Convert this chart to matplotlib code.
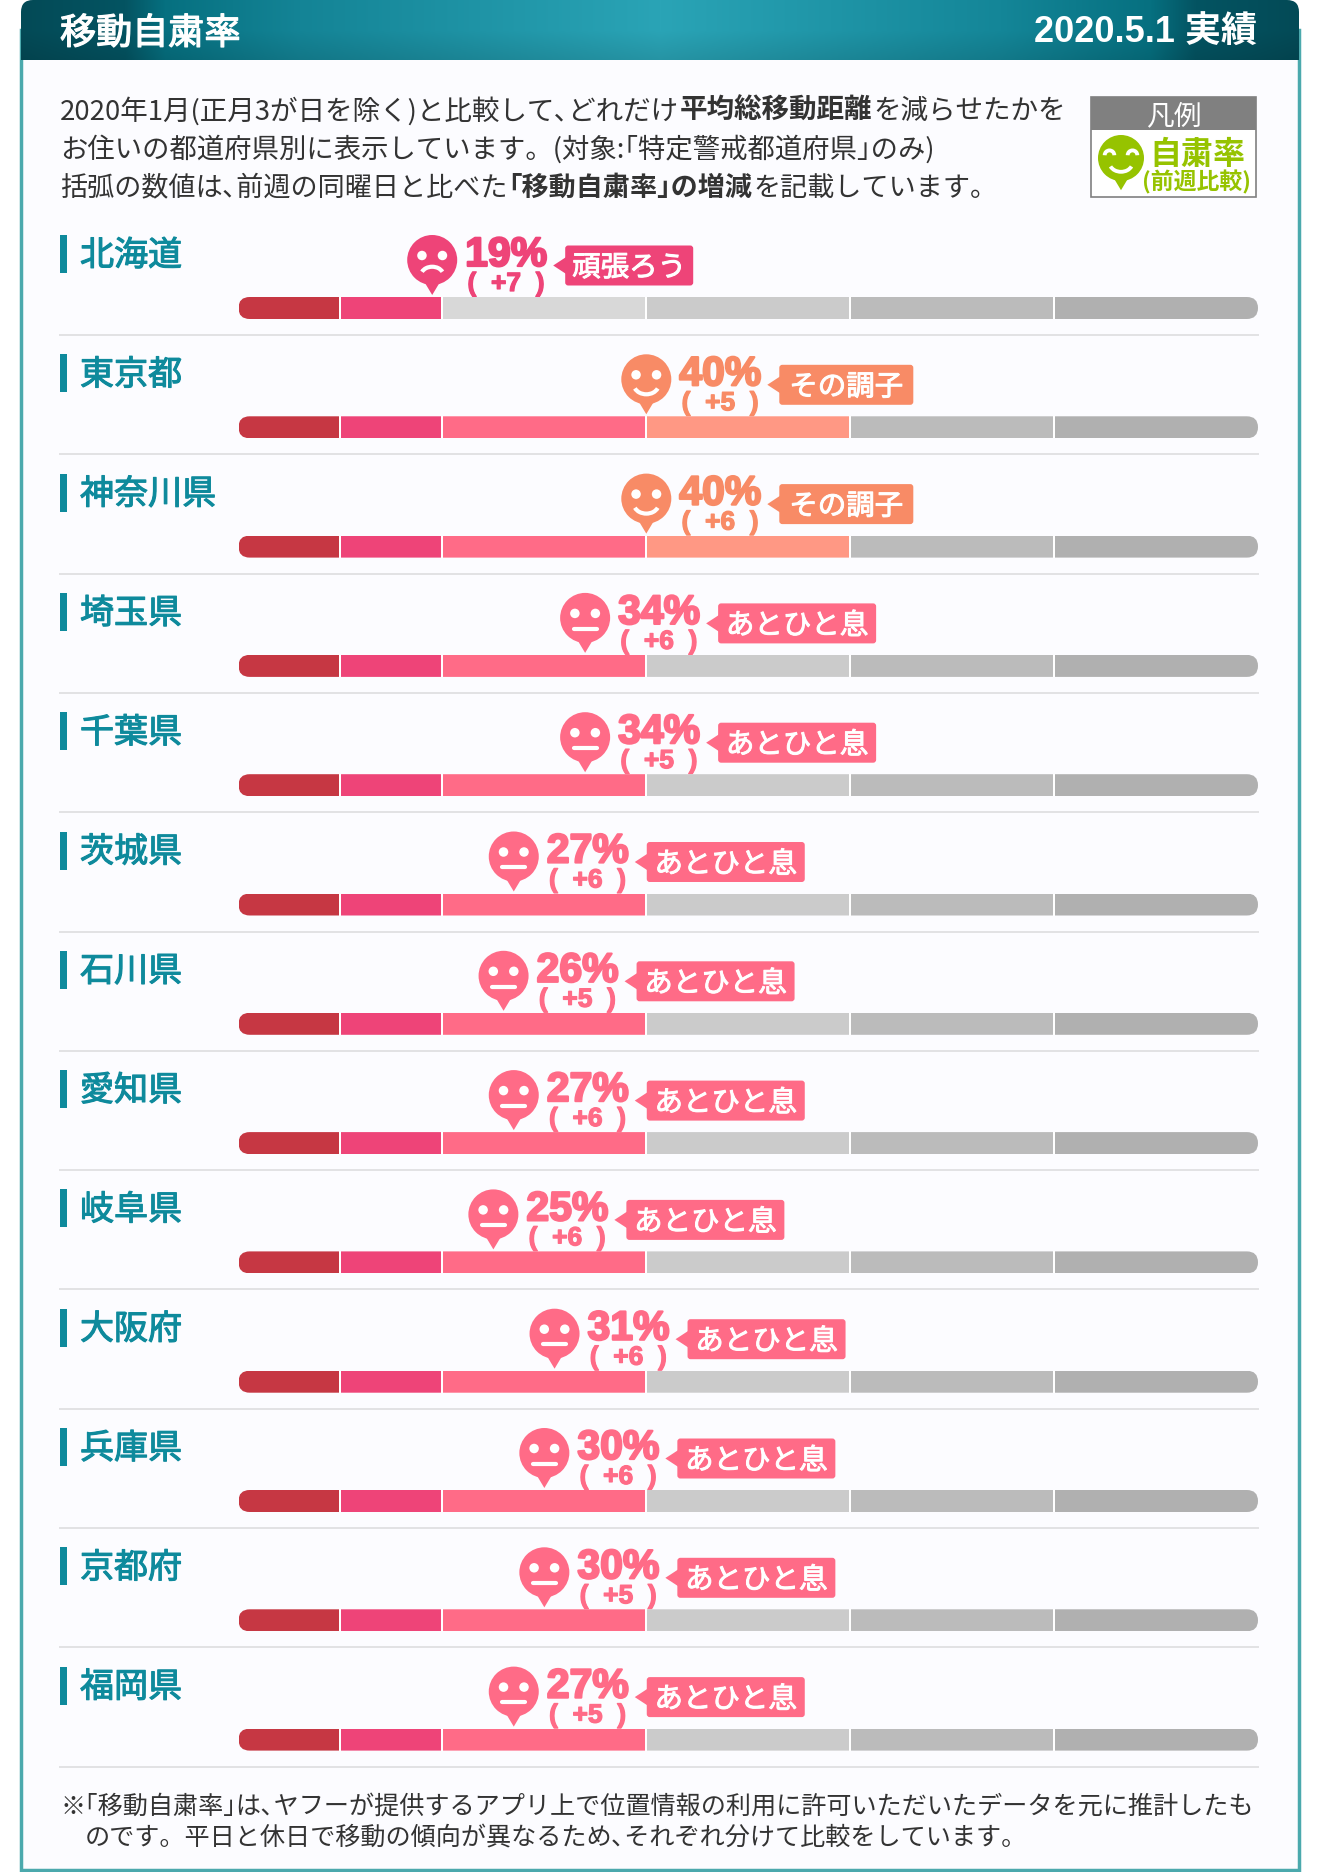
import numpy as np
import matplotlib
matplotlib.use("Agg")
import matplotlib.pyplot as plt
from matplotlib.patches import FancyBboxPatch, Circle, Polygon, Rectangle, Arc
import matplotlib.patheffects as pe

plt.rcParams['font.family'] = ['Noto Sans CJK JP', 'DejaVu Sans']

# data
prefectures = ["北海道", "東京都", "神奈川県", "埼玉県", "千葉県", "茨城県", "石川県",
               "愛知県", "岐阜県", "大阪府", "兵庫県", "京都府", "福岡県"]
rates = [19, 40, 40, 34, 34, 27, 26, 27, 25, 31, 30, 30, 27]
changes = [7, 5, 6, 6, 5, 6, 5, 6, 6, 6, 6, 5, 5]

band_edges = [0, 10, 20, 40, 60, 80, 100]
band_colors = ["#c63743", "#ee4478", "#ff6b87", "#ff9884"]
mark_colors = ["#c63743", "#ee4478", "#ff6b87", "#f88b66"]
grey_colors = ["#d8d8d8", "#d8d8d8", "#d8d8d8", "#cbcbcb", "#bbbbbb", "#b0b0b0"]
band_words = {1: "頑張ろう", 2: "あとひと息", 3: "その調子"}
tag_widths = {1: 128, 2: 158, 3: 134}

intro_lines = [
    [("2020年1月(正月3が日を除く)と比較して、どれだけ", False), ("平均総移動距離", True), ("を減らせたかを", False)],
    [("お住いの都道府県別に表示しています。(対象:「特定警戒都道府県」のみ)", False)],
    [("括弧の数値は、前週の同曜日と比べた", False), ("「移動自粛率」の増減", True), ("を記載しています。", False)],
]
note_lines = [
    "※「移動自粛率」は、ヤフーが提供するアプリ上で位置情報の利用に許可いただいたデータを元に推計したも",
    "のです。平日と休日で移動の傾向が異なるため、それぞれ分けて比較をしています。",
]

W, H = 1320, 1872
BAR_L, BAR_R = 238.5, 1258
ROW0, ROW_STEP = 308, 119.3
TEAL = "#0e8a9c"
TEXT = "#333333"
# 約物は半角で詰める
NARROW = str.maketrans({"「": "｢", "」": "｣", "、": "､"})

fig = plt.figure(figsize=(W / 100, H / 100), dpi=100, facecolor="white")
ax = fig.add_axes([0, 0, 1, 1])
ax.set_xlim(0, W)
ax.set_ylim(H, 0)
ax.axis("off")


def x_of(pct):
    return BAR_L + (BAR_R - BAR_L) * pct / 100


def band_of(v):
    for i in range(len(band_edges) - 1):
        if v < band_edges[i + 1]:
            return i
    return len(band_edges) - 2


def draw_face(x, y, r, color, mood):
    tip = r * 1.4
    ax.add_patch(Circle((x, y), r, fc=color, ec="none", zorder=3))
    ax.add_patch(Polygon([(x - r * .3, y + r * .9), (x + r * .3, y + r * .9), (x, y + tip)],
                         fc=color, ec="none", zorder=3))
    lw = r * .12
    if mood == "closed":
        for s in (-1, 1):
            ax.add_patch(Arc((x + s * r * .5, y - r * .12), r * .42, r * .42, theta1=180, theta2=360,
                             ec="white", lw=lw, zorder=4))
    else:
        for s in (-1, 1):
            ax.add_patch(Circle((x + s * r * .41, y - r * .18), r * .19, fc="white", ec="none", zorder=4))
    if mood == "sad":
        ax.add_patch(Arc((x, y + r * .62), r * .9, r * .7, theta1=200, theta2=340, ec="white", lw=lw, zorder=4))
    elif mood == "flat":
        ax.plot([x - r * .46, x + r * .46], [y + r * .43] * 2, color="white", lw=lw, zorder=4,
                solid_capstyle="round")
    else:
        ax.add_patch(Arc((x, y + r * .2), r * 1.0, r * .8, theta1=20, theta2=160, ec="white", lw=lw, zorder=4))


def draw_runs(x, y, runs, size, color=TEXT):
    r = fig.canvas.get_renderer()
    for s, bold in runs:
        t = ax.text(x, y, s.translate(NARROW), fontsize=size, color=color, va="center", ha="left",
                    fontweight="bold" if bold else "normal")
        x = t.get_window_extent(r).x1 + 1


# page
ax.add_patch(Rectangle((21, 30), 1278, 1840, fc="#fcfcff", ec="#4ba9ad", lw=2.5, zorder=0))

# header
xs = [0, 125, 165, 300, 660, 1000, 1150, 1195, 1320]
cs = [(3, 72, 84), (4, 84, 98), (6, 112, 128), (20, 132, 150), (42, 164, 182),
      (20, 134, 152), (6, 112, 128), (4, 84, 98), (3, 72, 84)]
grad_x = np.arange(W)
grad = np.stack([np.interp(grad_x, xs, [c[i] for c in cs]) for i in range(3)], axis=-1) / 255
grad = np.repeat(grad[None, :, :], 60, axis=0)
fade = np.interp(np.arange(60), [0, 30, 60], [1.0, 1.0, .9])[:, None, None]
im = ax.imshow(grad * fade, extent=(0, W, 60, 0), aspect="auto", zorder=1)
clip = FancyBboxPatch((21, 0), 1278, 100, boxstyle="round,pad=0,rounding_size=12", transform=ax.transData,
                      fc="none", ec="none")
ax.add_patch(clip)
im.set_clip_path(clip)
ax.set_xlim(0, W)
ax.set_ylim(H, 0)
ax.text(60, 34, "移動自粛率", color="white", fontsize=26, va="center", zorder=5,
        path_effects=[pe.withStroke(linewidth=.9, foreground="white")])
ax.text(1257, 33, "2020.5.1 実績", color="white", fontsize=26, fontweight="bold", va="center", ha="right",
        zorder=5, family=['Liberation Sans', 'Noto Sans CJK JP'])

# intro
for i, runs in enumerate(intro_lines):
    draw_runs(60, [111, 149, 188][i], runs, [19.85, 19.7, 19.5][i])

# legend
ax.add_patch(Rectangle((1091, 97), 165, 100, fc="white", ec="#808080", lw=1.2, zorder=2))
ax.add_patch(Rectangle((1091, 97), 165, 33, fc="#808080", ec="none", zorder=2))
ax.text(1174, 116, "凡例", color="white", fontsize=20, ha="center", va="center", zorder=5)
draw_face(1121, 158, 23, "#96c300", "closed")
ax.text(1197, 155, "自粛率", color="#96c300", fontsize=23, fontweight="bold", ha="center", va="center", zorder=5)
ax.text(1196, 182, "(前週比較)", color="#96c300", fontsize=16.5, fontweight="bold", ha="center", va="center", zorder=5)

# rows
bar_ax = fig.add_axes([BAR_L / W, 0, (BAR_R - BAR_L) / W, 1], zorder=2)
bar_ax.set_xlim(0, 100)
bar_ax.set_ylim(H, 0)
bar_ax.axis("off")
bar_ax.patch.set_alpha(0)

for i, name in enumerate(prefectures):
    yc = ROW0 + i * ROW_STEP
    rate = rates[i]
    b = band_of(rate)

    ax.add_patch(Rectangle((60, yc - 73), 7, 38, fc=TEAL, ec="none", zorder=3))
    ax.text(80, yc - 52, name, color=TEAL, fontsize=24.5, va="center", zorder=3,
            path_effects=[pe.withStroke(linewidth=.8, foreground=TEAL)])

    clip_bar = FancyBboxPatch((0, yc - 11), 100, 22, boxstyle="round,pad=0,rounding_size=1.1",
                              mutation_aspect=10, transform=bar_ax.transData, fc="none", ec="none")
    bar_ax.add_patch(clip_bar)
    for j in range(len(band_edges) - 1):
        col = band_colors[j] if j <= b else grey_colors[j]
        seg = bar_ax.barh(yc, band_edges[j + 1] - band_edges[j], left=band_edges[j], height=22,
                          color=col, edgecolor="none")
        seg[0].set_clip_path(clip_bar)
    bar_ax.vlines(band_edges[1:-1], yc - 11, yc + 11, color="white", lw=1.44)

    ax.plot([60, 1258], [yc + 27] * 2, color="#e2e2e4", lw=1.44, zorder=1)

    col = mark_colors[b]
    tip_x = x_of(rate)
    mood = {1: "sad", 2: "flat", 3: "smile"}[b]
    draw_face(tip_x, yc - 48, 25, col, mood)

    stroke = [pe.withStroke(linewidth=1.6, foreground=col)]
    ax.text(tip_x + 74, yc - 53, f"{rate}%", color=col, fontsize=29.5, fontweight="bold", ha="center", va="center",
            family=['Liberation Sans', 'DejaVu Sans'], zorder=4, path_effects=stroke)
    ax.text(tip_x + 74, yc - 24, f"(  +{changes[i]}  )", color=col, fontsize=19, fontweight="bold", ha="center",
            va="center", family=['Liberation Sans', 'DejaVu Sans'], zorder=4,
            path_effects=[pe.withStroke(linewidth=.9, foreground=col)])

    w = tag_widths[b]
    tx = tip_x + 133
    ax.add_patch(FancyBboxPatch((tx, yc - 62.5), w, 40, boxstyle="round,pad=0,rounding_size=3", fc=col, ec="none",
                                zorder=3))
    ax.add_patch(Polygon([(tx + 1, yc - 51), (tx + 1, yc - 34), (tx - 12, yc - 42.5)], fc=col, ec="none", zorder=3))
    ax.text(tx + w / 2, yc - 40, band_words[b], color="white", fontsize=20.5, ha="center", va="center", zorder=5,
            path_effects=[pe.withStroke(linewidth=.7, foreground="white")])

# note
draw_runs(60, 1807, [(note_lines[0], False)], 18.1)
draw_runs(85, 1837, [(note_lines[1], False)], 18.1)

fig.savefig("out.png", dpi=100, facecolor="white")
